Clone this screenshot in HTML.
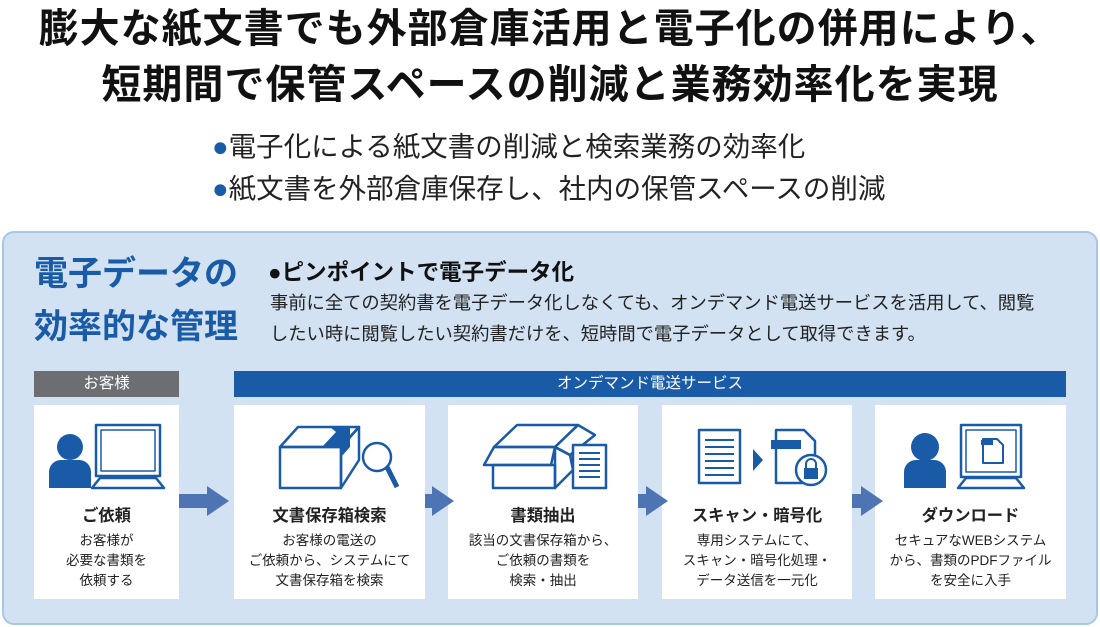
<!DOCTYPE html>
<html><head><meta charset="utf-8"><style>
*{margin:0;padding:0;box-sizing:border-box}
body{width:1100px;height:627px;background:#fff;position:relative;overflow:hidden;font-family:"Liberation Sans","Noto Sans CJK JP",sans-serif;color:#222}
.a{position:absolute;white-space:nowrap}
.t{font-weight:bold;font-size:40px;left:0;width:1100px;text-align:center;color:#111;letter-spacing:1px}
.b{font-size:27.5px;left:212px;color:#222}
.b span{color:#1a5ba8}
.box{position:absolute;background:#fff;top:405px;height:194px}
.c{position:absolute;text-align:center;width:100%;left:0}
.h{font-weight:bold;font-size:16.3px;top:97px}
.d{font-size:13.5px;top:126px;line-height:20px}
</style></head><body>
<div class="a t" style="top:-4px">膨大な紙文書でも外部倉庫活用と電子化の併用により、</div>
<div class="a t" style="top:52px">短期間で保管スペースの削減と業務効率化を実現</div>
<div class="a b" style="top:124px"><span>●</span>電子化による紙文書の削減と検索業務の効率化</div>
<div class="a b" style="top:166px"><span>●</span>紙文書を外部倉庫保存し、社内の保管スペースの削減</div>
<div class="a" style="left:2px;top:231px;width:1096px;height:394px;background:#d2e2f2;border:2px solid #a9c6e6;border-radius:12px"></div>
<div class="a" style="left:34px;top:248px;font-size:34px;font-weight:bold;color:#1a5ba8;line-height:53px">電子データの<br>効率的な管理</div>
<div class="a" style="left:268px;top:255px;font-size:22.5px;font-weight:bold;color:#111">●ピンポイントで電子データ化</div>
<div class="a" style="left:270px;top:287px;font-size:18.3px;line-height:31px;color:#222">事前に全ての契約書を電子データ化しなくても、オンデマンド電送サービスを活用して、閲覧<br>したい時に閲覧したい契約書だけを、短時間で電子データとして取得できます。</div>
<div class="a" style="left:34px;top:371px;width:145px;height:26px;background:#6d6e71;color:#fff;font-size:15.5px;text-align:center;line-height:26px">お客様</div>
<div class="a" style="left:234px;top:371px;width:832px;height:26px;background:#1a5ba8;color:#fff;font-size:15.5px;text-align:center;line-height:26px">オンデマンド電送サービス</div>
<div class="box" style="left:34px;width:145px"><div class="c h">ご依頼</div><div class="c d">お客様が<br>必要な書類を<br>依頼する</div></div>
<div class="box" style="left:234px;width:191px"><div class="c h">文書保存箱検索</div><div class="c d">お客様の電送の<br>ご依頼から、システムにて<br>文書保存箱を検索</div></div>
<div class="box" style="left:448px;width:190px"><div class="c h">書類抽出</div><div class="c d">該当の文書保存箱から、<br>ご依頼の書類を<br>検索・抽出</div></div>
<div class="box" style="left:662px;width:190px"><div class="c h">スキャン・暗号化</div><div class="c d">専用システムにて、<br>スキャン・暗号化処理・<br>データ送信を一元化</div></div>
<div class="box" style="left:875px;width:191px"><div class="c h">ダウンロード</div><div class="c d">セキュアなWEBシステム<br>から、書類のPDFファイル<br>を安全に入手</div></div>
<svg class="a" style="left:0;top:0" width="1100" height="627" viewBox="0 0 1100 627">
<g fill="#4f74b3">
<polygon points="179,494 207,494 207,486 229,501 207,516 207,508 179,508"/>
<polygon points="425,494 432,494 432,486 454,501 432,516 432,508 425,508"/>
<polygon points="638,494 646,494 646,486 668,501 646,516 646,508 638,508"/>
<polygon points="852,494 861,494 861,486 883,501 861,516 861,508 852,508"/>
</g>
<g fill="#1a5ba8" stroke="none">
<circle cx="70" cy="447" r="13"/>
<path d="M49,488 V472 a12,12 0 0 1 12,-12 h18 a12,12 0 0 1 12,12 V488 Z"/>
<circle cx="925" cy="447" r="14"/>
<path d="M915,488 V472 a12,12 0 0 1 12,-12 h18 a12,12 0 0 1 12,12 V488 Z" transform="translate(-11,0)"/>
</g>
<g fill="none" stroke="#1a5ba8" stroke-width="2.5" stroke-linejoin="round">
<rect x="96" y="425" width="64" height="51"/><rect x="101" y="430" width="54" height="41" stroke-width="1.5"/>
<polygon points="100,478 156,478 164,488 92,488"/>
<rect x="280" y="447" width="61" height="41"/>
<polygon points="280,447 298,427 359,427 341,447"/>
<polygon points="341,447 359,427 359,460 341,488"/>
<circle cx="377" cy="457" r="14"/>
<line x1="387" y1="467" x2="397" y2="487" stroke-width="5"/>
<rect x="493" y="465" width="62" height="23"/>
<polygon points="484,465 494,447 555,447 551,465"/>
<polygon points="494,447 517,425 578,425 555,447"/>
<polygon points="578,425 595,435 570,455 555,447"/>
<polygon points="555,447 570,455 573,470 555,488"/>
<rect x="573" y="445" width="33" height="43" fill="#fff"/>
<rect x="699" y="430" width="41" height="53"/>
<path d="M776,430 h28 l11,11 v42 h-39 Z"/>
<rect x="961" y="425" width="60" height="52"/><rect x="966" y="430" width="50" height="42" stroke-width="1.5"/>
<polygon points="966,478 1016,478 1024,488 958,488"/>
<path d="M983,439 h14 l6,6 v18 h-20 Z" stroke-width="2"/>
</g>
<g stroke="#1a5ba8" stroke-width="2">
<line x1="579" y1="453" x2="600" y2="453"/><line x1="579" y1="459" x2="600" y2="459"/><line x1="579" y1="465" x2="600" y2="465"/><line x1="579" y1="471" x2="600" y2="471"/><line x1="579" y1="477" x2="600" y2="477"/>
<line x1="705" y1="440" x2="734" y2="440"/><line x1="705" y1="447" x2="734" y2="447"/><line x1="705" y1="454" x2="734" y2="454"/><line x1="705" y1="461" x2="734" y2="461"/><line x1="705" y1="468" x2="734" y2="468"/><line x1="705" y1="475" x2="734" y2="475"/>
</g>
<g fill="#1a5ba8">
<polygon points="330,427 350,427 350,447 341,457 341,447 322,447 336,432"/>
<polygon points="753,449 763,460 753,471"/>
<rect x="771" y="440" width="30" height="9"/>
<rect x="981" y="440" width="12" height="5"/>
<circle cx="811" cy="470" r="15" fill="#fff" stroke="#1a5ba8" stroke-width="2.5"/>
<rect x="804" y="468" width="14" height="11"/>
<path d="M806,468 v-4 a5,5 0 0 1 10,0 v4" fill="none" stroke="#1a5ba8" stroke-width="2"/>
</g>
</svg>
</body></html>
